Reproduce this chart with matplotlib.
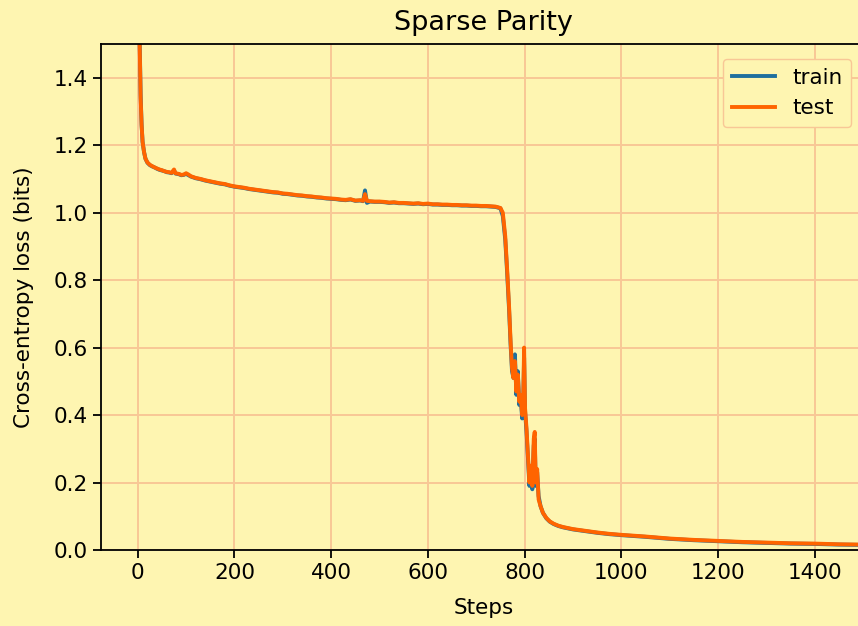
import matplotlib
matplotlib.use("Agg")
import matplotlib.pyplot as plt

# training steps and cross-entropy loss (bits) for the sparse parity task
steps = [0, 2, 4, 6, 8, 10, 13, 16, 20, 25, 30, 35, 40, 45, 50, 55, 60, 65, 70, 75,
         78, 85, 90, 95, 100, 105, 110, 120, 130, 140, 150, 160, 170, 180, 190, 200,
         210, 220, 230, 240, 250, 260, 270, 280, 290, 300, 310, 320, 330, 340, 350,
         360, 370, 380, 390, 400, 410, 420, 430, 440, 450, 460, 466, 470, 474, 480,
         490, 500, 510, 520, 530, 540, 550, 560, 570, 580, 590, 600, 610, 620, 630,
         640, 650, 660, 670, 680, 690, 700, 710, 720, 730, 740, 750, 755, 760, 764,
         768, 771, 774, 777, 780, 783, 786, 789, 792, 795, 797, 799, 801, 804, 807,
         810, 813, 816, 819, 821, 823, 826, 829, 833, 838, 845, 852, 860, 870, 880,
         900, 925, 950, 975, 1000, 1050, 1100, 1150, 1200, 1250, 1300, 1350, 1400,
         1450, 1500]

train_loss = [2.10, 1.76, 1.51, 1.35, 1.26, 1.21, 1.18, 1.160, 1.148, 1.141, 1.137,
              1.134, 1.130, 1.127, 1.125, 1.123, 1.120, 1.119, 1.117, 1.126, 1.116,
              1.114, 1.111, 1.112, 1.115, 1.111, 1.107, 1.102, 1.099, 1.095, 1.092,
              1.089, 1.086, 1.084, 1.080, 1.077, 1.075, 1.073, 1.070, 1.068, 1.066,
              1.064, 1.062, 1.060, 1.059, 1.056, 1.055, 1.053, 1.051, 1.050, 1.048,
              1.047, 1.045, 1.044, 1.042, 1.041, 1.040, 1.038, 1.037, 1.039, 1.035,
              1.036, 1.034, 1.066, 1.029, 1.033, 1.032, 1.032, 1.031, 1.029, 1.030,
              1.028, 1.028, 1.027, 1.026, 1.027, 1.025, 1.026, 1.024, 1.024, 1.023,
              1.023, 1.022, 1.022, 1.021, 1.021, 1.020, 1.020, 1.019, 1.019, 1.018,
              1.017, 1.013, 0.99, 0.92, 0.82, 0.71, 0.61, 0.53, 0.51, 0.58, 0.46,
              0.53, 0.43, 0.45, 0.39, 0.42, 0.57, 0.41, 0.35, 0.27, 0.19, 0.24, 0.18,
              0.31, 0.33, 0.19, 0.23, 0.16, 0.13, 0.11, 0.094, 0.084, 0.077, 0.071,
              0.067, 0.061, 0.056, 0.051, 0.047, 0.044, 0.039, 0.033, 0.029, 0.026,
              0.023, 0.021, 0.019, 0.018, 0.016, 0.015]

test_loss = [2.10, 1.75, 1.50, 1.34, 1.26, 1.21, 1.18, 1.160, 1.149, 1.142, 1.138,
             1.134, 1.131, 1.128, 1.126, 1.123, 1.121, 1.120, 1.118, 1.128, 1.117,
             1.115, 1.112, 1.113, 1.117, 1.113, 1.108, 1.103, 1.100, 1.096, 1.093,
             1.090, 1.087, 1.085, 1.081, 1.078, 1.076, 1.074, 1.071, 1.069, 1.067,
             1.065, 1.063, 1.061, 1.060, 1.057, 1.056, 1.054, 1.052, 1.051, 1.049,
             1.048, 1.046, 1.045, 1.043, 1.042, 1.041, 1.039, 1.038, 1.040, 1.036,
             1.037, 1.035, 1.055, 1.035, 1.034, 1.033, 1.033, 1.032, 1.030, 1.031,
             1.029, 1.029, 1.028, 1.027, 1.028, 1.026, 1.027, 1.025, 1.025, 1.024,
             1.024, 1.023, 1.023, 1.022, 1.022, 1.021, 1.021, 1.020, 1.020, 1.019,
             1.018, 1.014, 1.00, 0.93, 0.83, 0.72, 0.62, 0.54, 0.51, 0.56, 0.47,
             0.52, 0.44, 0.46, 0.40, 0.43, 0.60, 0.42, 0.36, 0.28, 0.20, 0.25, 0.19,
             0.33, 0.35, 0.20, 0.24, 0.15, 0.13, 0.11, 0.095, 0.085, 0.078, 0.072,
             0.068, 0.062, 0.057, 0.052, 0.048, 0.045, 0.040, 0.034, 0.030, 0.027,
             0.024, 0.022, 0.020, 0.019, 0.017, 0.016]

bg = "#fef5b1"
grid_col = "#f8c796"

plt.rcParams["font.family"] = "DejaVu Sans"
plt.rcParams["font.size"] = 15.5

fig = plt.figure(figsize=(8.58, 6.26), dpi=100, facecolor=bg)
ax = fig.add_axes([0.1177, 0.1214, 0.8916, 0.8083], facecolor=bg)

ax.plot(steps, train_loss, color="#1f6f9e", lw=2.8, label="train")
ax.plot(steps, test_loss, color="#ff6400", lw=2.8, label="test")

ax.set_xlim(-76, 1506)
ax.set_ylim(0, 1.5)
ax.set_xticks(range(0, 1401, 200))
ax.set_yticks([0.0, 0.2, 0.4, 0.6, 0.8, 1.0, 1.2, 1.4])
ax.set_yticklabels(["0.0", "0.2", "0.4", "0.6", "0.8", "1.0", "1.2", "1.4"])

ax.grid(True, color=grid_col, lw=1.4)
ax.set_axisbelow(True)
for s in ax.spines.values():
    s.set_linewidth(1.3)
ax.tick_params(length=6, width=1.3)

ax.set_title("Sparse Parity", fontsize=19.5, pad=10)
ax.set_xlabel("Steps", labelpad=11)
ax.set_ylabel("Cross-entropy loss (bits)", labelpad=14)

leg = ax.legend(loc="upper right", facecolor=bg, edgecolor=grid_col, framealpha=1,
                borderaxespad=0.7)

fig.savefig("out.png", dpi=100, facecolor=bg)
